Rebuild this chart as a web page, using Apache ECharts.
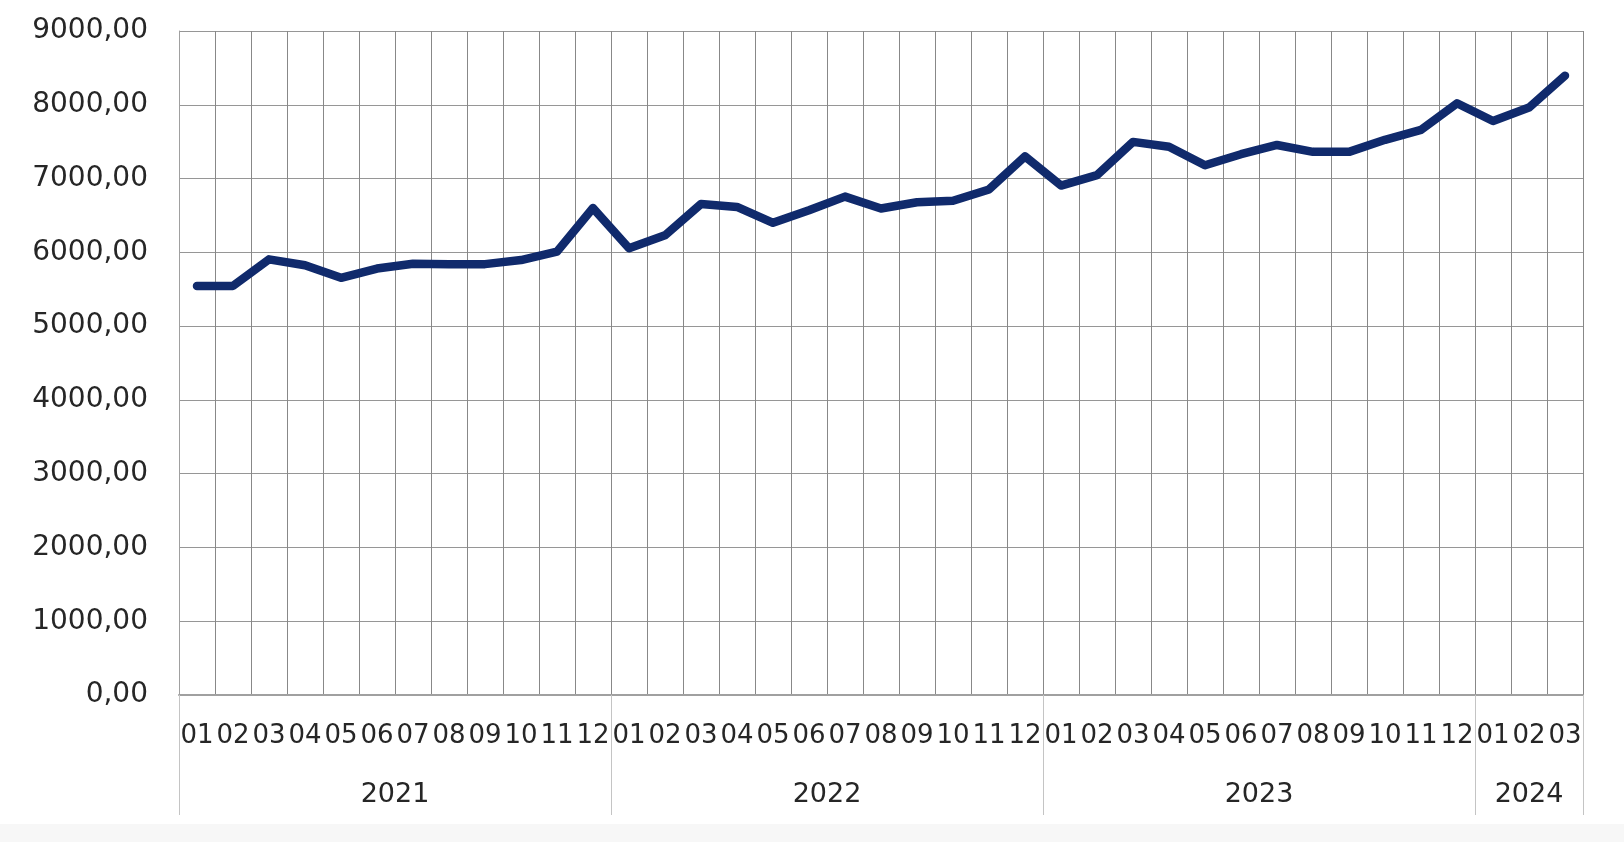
<!DOCTYPE html>
<html>
<head>
<meta charset="utf-8">
<script src="https://cdn.jsdelivr.net/npm/echarts@6/dist/echarts.min.js"></script>
<style>
  html, body { margin: 0; padding: 0; background: #ffffff; }
  #chart { width: 1624px; height: 842px; }
</style>
</head>
<body>
<div id="chart"></div>
<script>
// ---- data ----
const years = ['2021', '2022', '2023', '2024'];
const monthsPerYear = [12, 12, 12, 3];
const monthLabels = ['01','02','03','04','05','06','07','08','09','10','11','12'];
const values = [
  5545, 5545, 5905, 5825, 5655, 5780, 5845, 5840, 5840, 5895, 6010, 6600,
  6055, 6230, 6655, 6615, 6400, 6570, 6755, 6595, 6678, 6700, 6852, 7300,
  6905, 7046, 7497, 7430, 7180, 7330, 7455, 7362, 7362, 7525, 7660, 8020,
  7780, 7962, 8395
];
const yTicks = { min: 0, max: 9000, interval: 1000 };

// ---- build axes from data ----
const monthCats = [];
years.forEach((y, yi) => {
  for (let m = 0; m < monthsPerYear[yi]; m++) monthCats.push(monthLabels[m]);
});
// year axis: half-month resolution, boundaries & centres
const totalHalf = monthCats.length * 2;
const yearAxisData = new Array(totalHalf + 1).fill('');
const yearBoundaries = new Set([0]);
let acc = 0;
years.forEach((y, yi) => {
  const start = acc * 2;
  const end = (acc + monthsPerYear[yi]) * 2;
  yearAxisData[(start + end) / 2] = y;
  yearBoundaries.add(end);
  acc += monthsPerYear[yi];
});

const FONT = 'DejaVu Sans';
const chart = echarts.init(document.getElementById('chart'), null, { renderer: 'canvas' });
chart.setOption({
  backgroundColor: '#ffffff',
  animation: false,
  graphic: [{
    type: 'rect', left: 0, top: 824, z: -10,
    shape: { width: 1624, height: 18 },
    style: { fill: '#f7f7f7' }
  }],
  grid: { left: 179, right: 41, top: 31, bottom: 147, containLabel: false },
  xAxis: [{
    type: 'category',
    position: 'bottom',
    data: monthCats,
    boundaryGap: true,
    axisLine: { show: true, lineStyle: { color: '#a0a0a0', width: 2 } },
    axisTick: { show: false },
    splitLine: { show: true, interval: 0, lineStyle: { color: '#888888', width: 1 } },
    axisLabel: {
      interval: 0, margin: 28, color: '#262626', fontFamily: FONT, fontSize: 26
    }
  }, {
    type: 'category',
    position: 'bottom',
    data: yearAxisData,
    boundaryGap: false,
    axisLine: { show: false },
    axisTick: {
      show: true, length: 120,
      interval: (idx) => yearBoundaries.has(idx),
      lineStyle: { color: '#c4c4c4', width: 1 }
    },
    splitLine: { show: false },
    axisLabel: {
      interval: 0, margin: 86, color: '#262626', fontFamily: FONT, fontSize: 27
    }
  }],
  yAxis: {
    type: 'value',
    min: yTicks.min, max: yTicks.max, interval: yTicks.interval,
    axisLine: { show: true, lineStyle: { color: '#a0a0a0', width: 1 } },
    axisTick: { show: false },
    splitLine: { show: true, lineStyle: { color: '#969696', width: 1 } },
    axisLabel: {
      margin: 31, color: '#262626', fontFamily: FONT, fontSize: 28,
      formatter: (v) => v.toFixed(2).replace('.', ',')
    }
  },
  series: [{
    type: 'line',
    xAxisIndex: 0,
    data: values,
    symbol: 'none',
    lineStyle: { color: '#102a6c', width: 8.5, cap: 'round', join: 'round' },
    z: 5
  }]
});
</script>
</body>
</html>
